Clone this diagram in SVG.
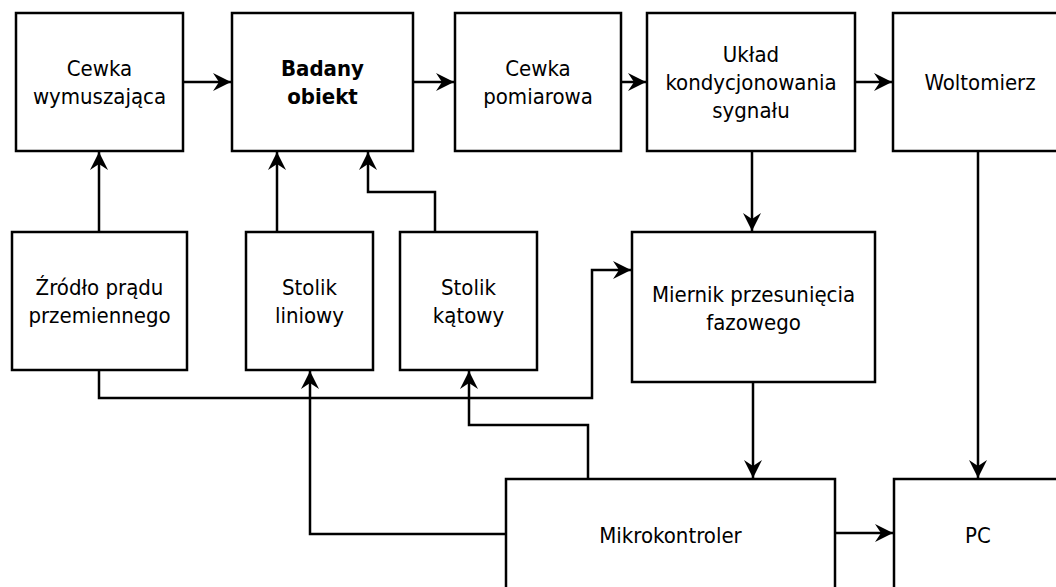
<svg xmlns="http://www.w3.org/2000/svg" width="1056" height="587" viewBox="0 0 1056 587">
  <style>
    .box { fill: #ffffff; stroke: #000000; stroke-width: 2.5; }
    .lbl { font-family: "DejaVu Sans Condensed", "DejaVu Sans", "Liberation Sans", sans-serif; font-stretch: condensed; font-size: 22px; fill: #000000; text-anchor: middle; }
    .bold { font-weight: bold; }
    .wire { fill: none; stroke: #000000; stroke-width: 2.5; }
    .arrow { marker-end: url(#head); }
  </style>
  <defs>
    <!-- classic notched arrowhead, sized in user units -->
    <marker id="head" markerUnits="userSpaceOnUse" markerWidth="19" markerHeight="19" refX="18" refY="9" orient="auto" overflow="visible">
      <path d="M0,0 L18,9 L0,18 L6,9 Z" fill="#000000"/>
    </marker>
  </defs>
  <rect width="1056" height="587" fill="#ffffff"/>

  <!-- connectors -->
  <g id="connectors">
    <path class="wire arrow" d="M183,82 H231"/>
    <path class="wire arrow" d="M413,82 H454"/>
    <path class="wire arrow" d="M621,82 H646"/>
    <path class="wire arrow" d="M855,82 H892"/>
    <path class="wire arrow" d="M99,232 V152"/>
    <path class="wire arrow" d="M277,232 V152"/>
    <path class="wire arrow" d="M435,232 V192 H368 V152"/>
    <path class="wire arrow" d="M752,151 V231"/>
    <path class="wire arrow" d="M99,370 V398 H592 V270 H631"/>
    <path class="wire arrow" d="M506,534 H310 V371"/>
    <path class="wire arrow" d="M588,479 V425 H469 V371"/>
    <path class="wire arrow" d="M753,382 V478"/>
    <path class="wire arrow" d="M978,151 V478"/>
    <path class="wire arrow" d="M835,533 H893"/>
  </g>

  <!-- top row -->
  <g id="cewka-wymuszajaca">
    <rect class="box" x="16" y="13" width="167" height="138"/>
    <text class="lbl" x="99.5" y="76">Cewka</text>
    <text class="lbl" x="99.5" y="104">wymuszająca</text>
  </g>
  <g id="badany-obiekt">
    <rect class="box" x="232" y="13" width="181" height="138"/>
    <text class="lbl bold" x="322.5" y="76">Badany</text>
    <text class="lbl bold" x="322.5" y="104">obiekt</text>
  </g>
  <g id="cewka-pomiarowa">
    <rect class="box" x="455" y="13" width="166" height="138"/>
    <text class="lbl" x="538" y="76">Cewka</text>
    <text class="lbl" x="538" y="104">pomiarowa</text>
  </g>
  <g id="uklad-kondycjonowania">
    <rect class="box" x="647" y="13" width="208" height="138"/>
    <text class="lbl" x="751" y="62">Układ</text>
    <text class="lbl" x="751" y="90">kondycjonowania</text>
    <text class="lbl" x="751" y="118">sygnału</text>
  </g>
  <g id="woltomierz">
    <rect class="box" x="893" y="13" width="174" height="138"/>
    <text class="lbl" x="980" y="90">Woltomierz</text>
  </g>

  <!-- middle row -->
  <g id="zrodlo-pradu">
    <rect class="box" x="12" y="232" width="175" height="138"/>
    <text class="lbl" x="99.5" y="295">Źródło prądu</text>
    <text class="lbl" x="99.5" y="323">przemiennego</text>
  </g>
  <g id="stolik-liniowy">
    <rect class="box" x="246" y="232" width="127" height="138"/>
    <text class="lbl" x="309.5" y="295">Stolik</text>
    <text class="lbl" x="309.5" y="323">liniowy</text>
  </g>
  <g id="stolik-katowy">
    <rect class="box" x="400" y="232" width="137" height="138"/>
    <text class="lbl" x="468.5" y="295">Stolik</text>
    <text class="lbl" x="468.5" y="323">kątowy</text>
  </g>
  <g id="miernik-fazy">
    <rect class="box" x="632" y="232" width="243" height="150"/>
    <text class="lbl" x="753.5" y="302">Miernik przesunięcia</text>
    <text class="lbl" x="753.5" y="330">fazowego</text>
  </g>

  <!-- bottom row -->
  <g id="mikrokontroler">
    <rect class="box" x="506" y="479" width="329" height="113"/>
    <text class="lbl" x="670.5" y="543">Mikrokontroler</text>
  </g>
  <g id="pc">
    <rect class="box" x="894" y="479" width="168" height="113"/>
    <text class="lbl" x="978" y="543">PC</text>
  </g>
</svg>
